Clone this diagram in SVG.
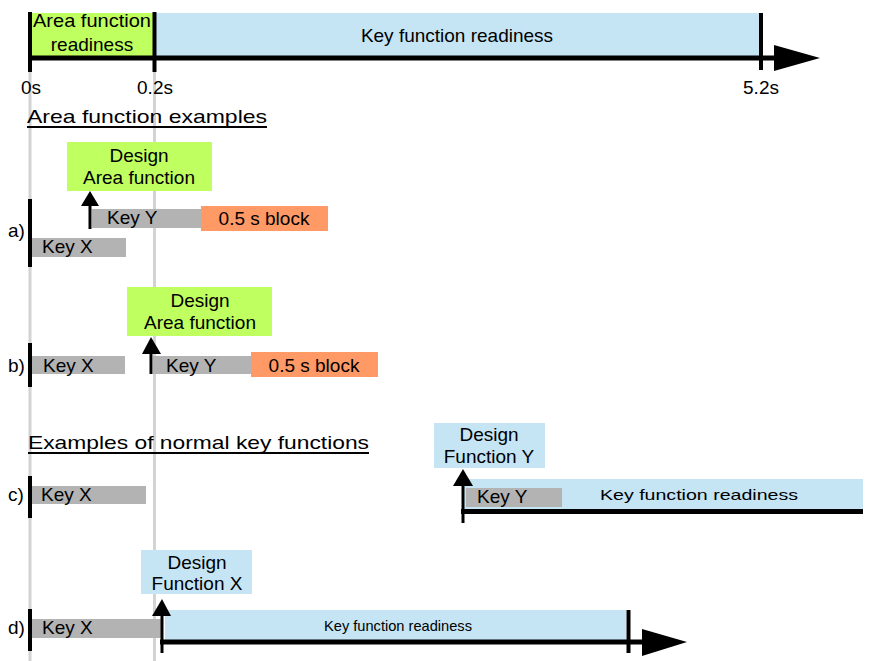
<svg xmlns="http://www.w3.org/2000/svg" width="869" height="661" viewBox="0 0 869 661">
<style>
text{font-family:"Liberation Sans",Arial,sans-serif;fill:#000}
.t{font-size:19px}
.m{text-anchor:middle}
.s{font-size:14.5px}
.green{fill:#bfff5f}
.blue{fill:#c5e5f5}
.gray{fill:#b3b3b3}
.orange{fill:#ff9966}
.grid{stroke:#d3d3d3;stroke-width:3}
.tick{stroke:#000;stroke-width:4}
.axis{stroke:#000;stroke-width:5}
.arr{stroke:#000;stroke-width:3}
.u{stroke:#000;stroke-width:2}
</style>
<rect width="869" height="661" fill="#fff"/>
<g id="gridlines">
<line class="grid" x1="30" y1="72" x2="30" y2="661"/>
<line class="grid" x1="154.5" y1="72" x2="154.5" y2="661"/>
</g>
<g id="timeline">
<rect class="green" x="31" y="13" width="122" height="43"/>
<rect class="blue" x="156" y="13" width="604" height="43"/>
<text class="t m" x="92" y="27" textLength="118" lengthAdjust="spacingAndGlyphs">Area function</text>
<text class="t m" x="92" y="51">readiness</text>
<text class="t m" x="457" y="42">Key function readiness</text>
<line class="axis" x1="28" y1="58" x2="776" y2="58"/>
<polygon points="774,45 820,58 774,71" fill="#000"/>
<line class="tick" x1="30" y1="12" x2="30" y2="72"/>
<line class="tick" x1="154.5" y1="12" x2="154.5" y2="72"/>
<line class="tick" x1="761" y1="13" x2="761" y2="70"/>
<text class="t m" x="31" y="94">0s</text>
<text class="t m" x="155" y="94">0.2s</text>
<text class="t m" x="761" y="94">5.2s</text>
</g>
<g id="heading-area">
<text class="t" x="27" y="123" textLength="240" lengthAdjust="spacingAndGlyphs">Area function examples</text>
<line class="u" x1="27" y1="127" x2="267" y2="127"/>
</g>
<g id="example-a">
<text class="t" x="8" y="237">a)</text>
<rect class="gray" x="31" y="238" width="95" height="19"/>
<text class="t" x="42" y="253">Key X</text>
<rect class="gray" x="92" y="209" width="110" height="19"/>
<text class="t" x="107" y="224">Key Y</text>
<rect class="orange" x="201" y="206" width="127" height="25"/>
<text class="t m" x="264" y="225">0.5 s block</text>
<line class="tick" x1="30" y1="199" x2="30" y2="267"/>
<rect class="green" x="67" y="142" width="145" height="49"/>
<text class="t m" x="139" y="162">Design</text>
<text class="t m" x="139" y="184">Area function</text>
</g>
<g id="example-b">
<text class="t" x="8" y="372">b)</text>
<rect class="gray" x="31" y="356" width="94" height="18"/>
<text class="t" x="43" y="372">Key X</text>
<rect class="gray" x="153" y="356" width="99" height="18"/>
<text class="t" x="166" y="372">Key Y</text>
<rect class="orange" x="251" y="352" width="127" height="25"/>
<text class="t m" x="314" y="372">0.5 s block</text>
<line class="tick" x1="30" y1="343" x2="30" y2="387"/>
<rect class="green" x="127" y="287" width="145" height="49"/>
<text class="t m" x="200" y="307">Design</text>
<text class="t m" x="200" y="329">Area function</text>
</g>
<g id="heading-normal">
<text class="t" x="28" y="449" textLength="341" lengthAdjust="spacingAndGlyphs">Examples of normal key functions</text>
<line class="u" x1="28" y1="453" x2="369" y2="453"/>
</g>
<g id="example-c">
<text class="t" x="8" y="501">c)</text>
<rect class="gray" x="31" y="486" width="115" height="18"/>
<text class="t" x="41" y="501">Key X</text>
<line class="tick" x1="30" y1="476" x2="30" y2="518"/>
<rect class="blue" x="463" y="479" width="400" height="30"/>
<rect class="gray" x="466" y="488" width="96" height="19"/>
<text class="t" x="477" y="503">Key Y</text>
<text class="s m" x="699" y="500" textLength="198" lengthAdjust="spacingAndGlyphs">Key function readiness</text>
<line class="axis" x1="461" y1="511.5" x2="863" y2="511.5"/>
<rect class="blue" x="434" y="423" width="111" height="45"/>
<text class="t m" x="489" y="441">Design</text>
<text class="t m" x="489" y="463">Function Y</text>
</g>
<g id="example-d">
<text class="t" x="8" y="634">d)</text>
<rect class="gray" x="31" y="619" width="130" height="19"/>
<text class="t" x="42" y="634">Key X</text>
<line class="tick" x1="30" y1="609" x2="30" y2="651"/>
<rect class="blue" x="165" y="610" width="461" height="30"/>
<text class="s m" x="398" y="631" textLength="148" lengthAdjust="spacingAndGlyphs">Key function readiness</text>
<line class="axis" x1="160" y1="642" x2="644" y2="642"/>
<polygon points="642,629 687,642 642,656" fill="#000"/>
<line class="tick" x1="628.5" y1="610" x2="628.5" y2="653"/>
<rect class="blue" x="141" y="550" width="111" height="44"/>
<text class="t m" x="197" y="569">Design</text>
<text class="t m" x="197" y="590">Function X</text>
</g>
<g id="connectors">
<line class="arr" x1="90" y1="229" x2="90" y2="204"/>
<polygon points="81,206 90,191 99,206" fill="#000"/>
<line class="arr" x1="151" y1="374" x2="151" y2="352"/>
<polygon points="142,354 151,337 161,354" fill="#000"/>
<line class="arr" x1="463" y1="523" x2="463" y2="484"/>
<polygon points="453,486 463,469 473,486" fill="#000"/>
<line class="arr" x1="162" y1="653" x2="162" y2="614"/>
<polygon points="152,616 162,599 171,616" fill="#000"/>
</g>
</svg>
